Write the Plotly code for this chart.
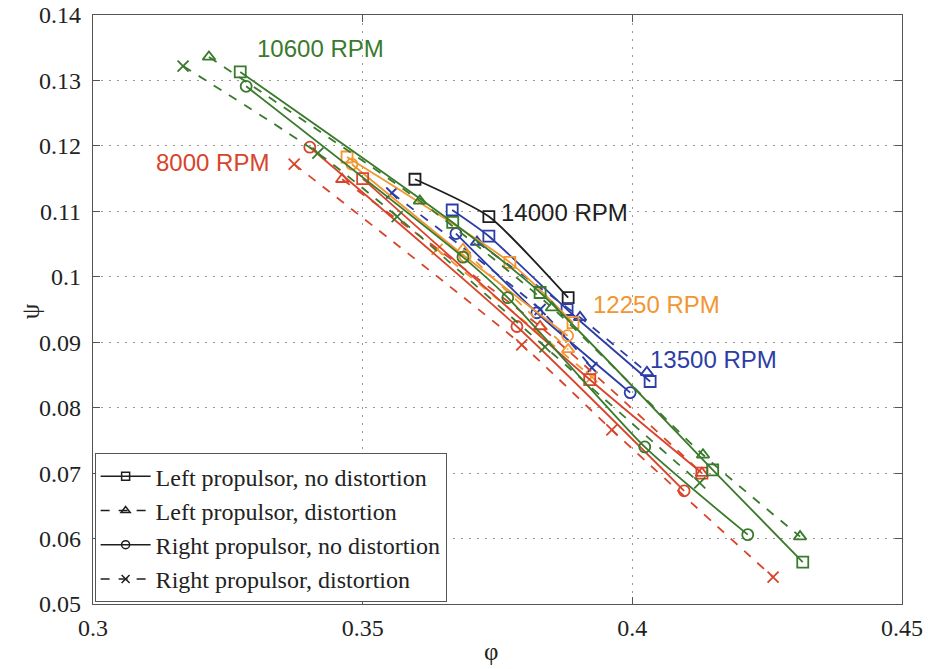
import plotly.graph_objects as go

# ---- data (phi, psi) ----
# 14000 RPM (black)
k_ln_phi = [0.3597, 0.3734, 0.3881]
k_ln_psi = [0.1149, 0.1092, 0.0968]

# 13500 RPM (blue)
b_ln_phi = [0.3666, 0.3734, 0.3879, 0.4033]
b_ln_psi = [0.1102, 0.1062, 0.0950, 0.0840]
b_ld_phi = [0.3712, 0.3903, 0.4027]
b_ld_psi = [0.1053, 0.0938, 0.0854]
b_rn_phi = [0.3673, 0.3823, 0.3996]
b_rn_psi = [0.1066, 0.0945, 0.0823]
b_rd_phi = [0.3554, 0.3829, 0.3925]
b_rd_psi = [0.1128, 0.0950, 0.0861]

# 12250 RPM (orange)
o_ln_phi = [0.3471, 0.3773, 0.3890]
o_ln_psi = [0.1183, 0.1022, 0.0930]
o_ld_phi = [0.3686, 0.3881]
o_ld_psi = [0.1042, 0.0889]
o_rn_phi = [0.3480, 0.3690, 0.3880]
o_rn_psi = [0.1172, 0.1031, 0.0910]
o_rd_phi = [0.3638, 0.3925]
o_rd_psi = [0.1042, 0.0847]

# 10600 RPM (green)
g_ln_phi = [0.3273, 0.3667, 0.3829, 0.4149, 0.4316]
g_ln_psi = [0.1313, 0.1083, 0.0976, 0.0705, 0.0564]
g_ld_phi = [0.3215, 0.3606, 0.3851, 0.4131, 0.4311]
g_ld_psi = [0.1336, 0.1116, 0.0953, 0.0728, 0.0603]
g_rn_phi = [0.3284, 0.3686, 0.3769, 0.4023, 0.4214]
g_rn_psi = [0.1291, 0.1030, 0.0968, 0.0740, 0.0606]
g_rd_phi = [0.3167, 0.3417, 0.3564, 0.3838, 0.4125]
g_rd_psi = [0.1322, 0.1189, 0.1092, 0.0893, 0.0685]

# 8000 RPM (red)
r_ln_phi = [0.3500, 0.3921, 0.4129]
r_ln_psi = [0.1150, 0.0843, 0.0700]
r_ld_phi = [0.3462, 0.3829, 0.4129]
r_ld_psi = [0.1149, 0.0924, 0.0700]
r_rn_phi = [0.3402, 0.3786, 0.4096]
r_rn_psi = [0.1198, 0.0924, 0.0673]
r_rd_phi = [0.3373, 0.3795, 0.3962, 0.4261]
r_rd_psi = [0.1172, 0.0896, 0.0766, 0.0541]

rpm_labels = ["10600 RPM", "8000 RPM", "14000 RPM", "12250 RPM", "13500 RPM"]
rpm_lab_phi = [0.3421, 0.3221, 0.3875, 0.4045, 0.4150]
rpm_lab_psi = [0.1349, 0.1175, 0.1098, 0.0958, 0.0873]

legend_names = ["Left propulsor, no distortion", "Left propulsor, distortion",
                "Right propulsor, no distortion", "Right propulsor, distortion"]

BLACK = "#1e1e1e"
BLUE = "#2c3ea6"
ORANGE = "#f29630"
GREEN = "#3a7a2c"
RED = "#d9442c"

SYM = ["square-open", "triangle-up-open", "circle-open", "x-thin-open"]
DASH = ["solid", "dash", "solid", "dash"]

series = [
    (k_ln_phi, k_ln_psi, BLACK, 0),
    (b_ln_phi, b_ln_psi, BLUE, 0), (b_ld_phi, b_ld_psi, BLUE, 1),
    (b_rn_phi, b_rn_psi, BLUE, 2), (b_rd_phi, b_rd_psi, BLUE, 3),
    (o_ln_phi, o_ln_psi, ORANGE, 0), (o_ld_phi, o_ld_psi, ORANGE, 1),
    (o_rn_phi, o_rn_psi, ORANGE, 2), (o_rd_phi, o_rd_psi, ORANGE, 3),
    (r_ln_phi, r_ln_psi, RED, 0), (r_ld_phi, r_ld_psi, RED, 1),
    (r_rn_phi, r_rn_psi, RED, 2), (r_rd_phi, r_rd_psi, RED, 3),
    (g_ln_phi, g_ln_psi, GREEN, 0), (g_ld_phi, g_ld_psi, GREEN, 1),
    (g_rn_phi, g_rn_psi, GREEN, 2), (g_rd_phi, g_rd_psi, GREEN, 3),
]

fig = go.Figure()
for xs, ys, col, kind in series:
    fig.add_trace(go.Scatter(
        x=xs, y=ys, mode="lines+markers", showlegend=False,
        line=dict(color=col, width=1.8, dash=DASH[kind], shape="spline", smoothing=0.6),
        marker=dict(symbol=SYM[kind], size=11, color=col, line=dict(color=col, width=1.8)),
    ))

for i, name in enumerate(legend_names):
    fig.add_trace(go.Scatter(
        x=[None], y=[None], mode="lines+markers", name=name,
        line=dict(color=BLACK, width=1.5, dash=DASH[i]),
        marker=dict(symbol=SYM[i], size=8, color=BLACK, line=dict(color=BLACK, width=1.5)),
    ))

lab_cols = [GREEN, RED, BLACK, ORANGE, BLUE]
for t, x, y, c in zip(rpm_labels, rpm_lab_phi, rpm_lab_psi, lab_cols):
    fig.add_annotation(x=x, y=y, text=t, showarrow=False,
                       font=dict(family="Liberation Sans, Arial", size=24, color=c))

# axis titles as paper-positioned text
fig.add_annotation(xref="paper", yref="paper", x=-0.078, y=0.497, text="ψ", showarrow=False,
                   xanchor="center", yanchor="middle", textangle=-90,
                   font=dict(family="Liberation Serif", size=25, color="#222"))
fig.add_annotation(xref="paper", yref="paper", x=0.492, y=-0.08, text="φ", showarrow=False,
                   xanchor="center", yanchor="middle",
                   font=dict(family="Liberation Serif", size=25, color="#222"))

axis_common = dict(
    showline=True, linecolor="#555", linewidth=1.2, mirror="ticks",
    ticks="inside", ticklen=7, tickcolor="#555",
    showgrid=True, gridcolor="#9a9a9a", griddash="2px,6px", gridwidth=1,
    zeroline=False, automargin=False, ticklabeloverflow="allow",
    tickfont=dict(family="Liberation Serif, Times New Roman", size=24, color="#222"),
)

fig.update_xaxes(range=[0.3, 0.45], tickvals=[0.3, 0.35, 0.4, 0.45],
                 ticktext=["0.3", "0.35", "0.4", "0.45"], ticklabelstandoff=2,
                 **axis_common)
fig.update_yaxes(range=[0.05, 0.14],
                 tickvals=[0.05, 0.06, 0.07, 0.08, 0.09, 0.1, 0.11, 0.12, 0.13, 0.14],
                 ticktext=["0.05", "0.06", "0.07", "0.08", "0.09", "0.1", "0.11", "0.12", "0.13", "0.14"],
                 ticklabelstandoff=6,
                 **axis_common)

fig.update_layout(
    width=928, height=669,
    margin=dict(l=93, r=26, t=15, b=65),
    paper_bgcolor="white", plot_bgcolor="white",
    legend=dict(x=0.002, y=0.003, xanchor="left", yanchor="bottom",
                bgcolor="white", bordercolor="#555", borderwidth=1,
                font=dict(family="Liberation Serif, Times New Roman", size=24, color="#222"),
                itemwidth=50, tracegroupgap=0),
)

# remove the default 8px page margin so the figure fills the window exactly
fig.write_html("out.html", config={"displayModeBar": False},
               post_script="document.body.style.margin='0';")
